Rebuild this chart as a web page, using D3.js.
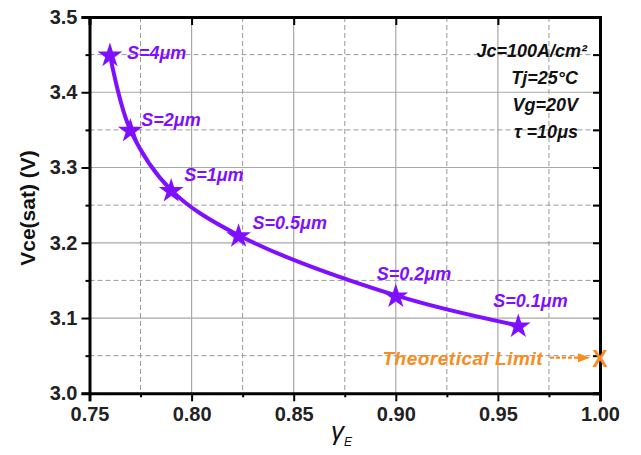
<!DOCTYPE html>
<html><head><meta charset="utf-8">
<script src="https://cdn.jsdelivr.net/npm/d3@7"></script>
<style>body{margin:0;background:#fff}svg{display:block}text{font-family:Arial,"Liberation Sans",sans-serif}</style>
</head><body><svg id="c" width="641" height="455"></svg>
<script>
const gammaE = [0.76, 0.77, 0.79, 0.823, 0.90, 0.96];
const vce = [3.45, 3.35, 3.27, 3.21, 3.13, 3.09];
const sLabels = ["S=4\u03bcm","S=2\u03bcm","S=1\u03bcm","S=0.5\u03bcm","S=0.2\u03bcm","S=0.1\u03bcm"];
const xTicks = [0.75,0.80,0.85,0.90,0.95,1.00];
const yTicks = [3.0,3.1,3.2,3.3,3.4,3.5];
const limitPoint = {x:1.00, y:3.05, label:"Theoretical Limit"};
const conditions = ["Jc=100A/cm\u00b2","Tj=25\u00b0C","Vg=20V","\u03c4 =10\u03bcs"];

const svg = d3.select("#c");
const L=89.5,R=600,T=17,B=393.3;
const x = d3.scaleLinear().domain([0.75,1.0]).range([L,R]);
const y = d3.scaleLinear().domain([3.0,3.5]).range([B,T]);
const purple="#7f0fff", orange="#f98c1e";

const minorX = d3.range(0.775,1.0,0.05);
const minorY = d3.range(3.05,3.5,0.1);
const g = svg.append("g");
// grid
g.selectAll(".gx").data(xTicks.slice(1,-1)).enter().append("line")
 .attr("x1",d=>x(d)).attr("x2",d=>x(d)).attr("y1",T).attr("y2",B).attr("stroke","#a8a8a8").attr("stroke-width",1.2);
g.selectAll(".gy").data(yTicks.slice(1,-1)).enter().append("line")
 .attr("y1",d=>y(d)).attr("y2",d=>y(d)).attr("x1",L).attr("x2",R).attr("stroke","#a8a8a8").attr("stroke-width",1.2);
g.selectAll(".gmx").data(minorX).enter().append("line")
 .attr("x1",d=>x(d)).attr("x2",d=>x(d)).attr("y1",T).attr("y2",B).attr("stroke","#999").attr("stroke-dasharray","5,3");
g.selectAll(".gmy").data(minorY).enter().append("line")
 .attr("y1",d=>y(d)).attr("y2",d=>y(d)).attr("x1",L).attr("x2",R).attr("stroke","#999").attr("stroke-dasharray","5,3");

// axes
const axB = d3.axisBottom(x).tickValues(xTicks).tickFormat(d3.format(".2f")).tickSize(8).tickPadding(6);
const axL = d3.axisLeft(y).tickValues(yTicks).tickFormat(d3.format(".1f")).tickSize(8).tickPadding(4);
const gb = svg.append("g").attr("transform",`translate(0,${B})`).call(axB);
const gl = svg.append("g").attr("transform",`translate(${L},0)`).call(axL);
svg.append("g").attr("transform",`translate(0,${B})`).call(d3.axisBottom(x).tickValues(minorX).tickFormat("").tickSize(4)).select(".domain").remove();
svg.append("g").attr("transform",`translate(${L},0)`).call(d3.axisLeft(y).tickValues(minorY).tickFormat("").tickSize(4)).select(".domain").remove();
const gt = svg.append("g").attr("transform",`translate(0,${T})`).call(d3.axisBottom(x).tickValues(xTicks).tickFormat("").tickSize(8));
const gr = svg.append("g").attr("transform",`translate(${R},0)`).call(d3.axisLeft(y).tickValues(yTicks.concat(minorY)).tickFormat("").tickSize(7));
[gb,gl,gt,gr].forEach(a=>{a.selectAll(".domain").attr("stroke","#000").attr("stroke-width",3);});
svg.selectAll(".tick line").attr("stroke","#000").attr("stroke-width",2);
svg.selectAll(".tick text").attr("font-size",20).attr("font-weight","bold").attr("fill","#222");

// curve
const pts = gammaE.map((d,i)=>[x(d),y(vce[i])]);
svg.append("path").attr("d",d3.line().curve(d3.curveCatmullRom.alpha(0.5))(pts))
 .attr("fill","none").attr("stroke",purple).attr("stroke-width",4);
// stars
const star = d3.symbol().type(d3.symbolStar).size(190);
svg.selectAll(".st").data(pts).enter().append("path").attr("d",star)
 .attr("transform",d=>`translate(${d[0]},${d[1]+1})`).attr("fill",purple);

// labels
const lblOff = [[17,-2],[11,-10],[13,-15],[14,-13],[-19,-22],[-25,-25]];
svg.selectAll(".lb").data(sLabels).enter().append("text")
 .attr("x",(d,i)=>pts[i][0]+lblOff[i][0]).attr("y",(d,i)=>pts[i][1]+lblOff[i][1])
 .attr("dy","0.35em").attr("font-size",18).attr("font-weight","bold").attr("font-style","italic")
 .attr("fill",purple).text(d=>d);

// conditions
const condY=[57,84,111,138];
svg.selectAll(".cd").data(conditions).enter().append("text")
 .attr("x",(d,i)=>i===0?587:578).attr("y",(d,i)=>condY[i]).attr("text-anchor","end")
 .attr("font-size",18).attr("font-weight","bold").attr("font-style","italic").attr("fill","#111").text(d=>d);

// theoretical limit
const lx=x(limitPoint.x), ly=y(limitPoint.y);
svg.append("text").attr("x",lx-57).attr("y",ly+2.5).attr("dy","0.35em").attr("text-anchor","end")
 .attr("font-size",19).attr("font-weight","bold").attr("font-style","italic").attr("fill",orange)
 .attr("letter-spacing","0.5px").text(limitPoint.label);
svg.append("line").attr("x1",lx-50).attr("x2",lx-20).attr("y1",ly+2).attr("y2",ly+2)
 .attr("stroke",orange).attr("stroke-width",2.2).attr("stroke-dasharray","4,2");
svg.append("path").attr("d",`M${lx-10},${ly+2} L${lx-22},${ly-2.5} L${lx-22},${ly+6.5} Z`).attr("fill",orange);
svg.append("text").attr("x",lx).attr("y",ly+3).attr("dy","0.36em").attr("text-anchor","middle")
 .attr("font-size",23).attr("font-weight","bold").attr("fill",orange).text("X");

// axis titles
svg.append("text").attr("transform","translate(35,208) rotate(-90)").attr("text-anchor","middle")
 .attr("font-size",21).attr("font-weight","bold").attr("fill","#111").text("Vce(sat) (V)");
const xt = svg.append("text").attr("x",331).attr("y",440).attr("text-anchor","start")
 .attr("font-family","'Liberation Serif','DejaVu Serif',serif").attr("font-style","italic").attr("fill","#111");
xt.append("tspan").attr("font-size",26).text("\u03b3");
xt.append("tspan").attr("font-size",12).attr("dy",6).text("E");
</script></body></html>
